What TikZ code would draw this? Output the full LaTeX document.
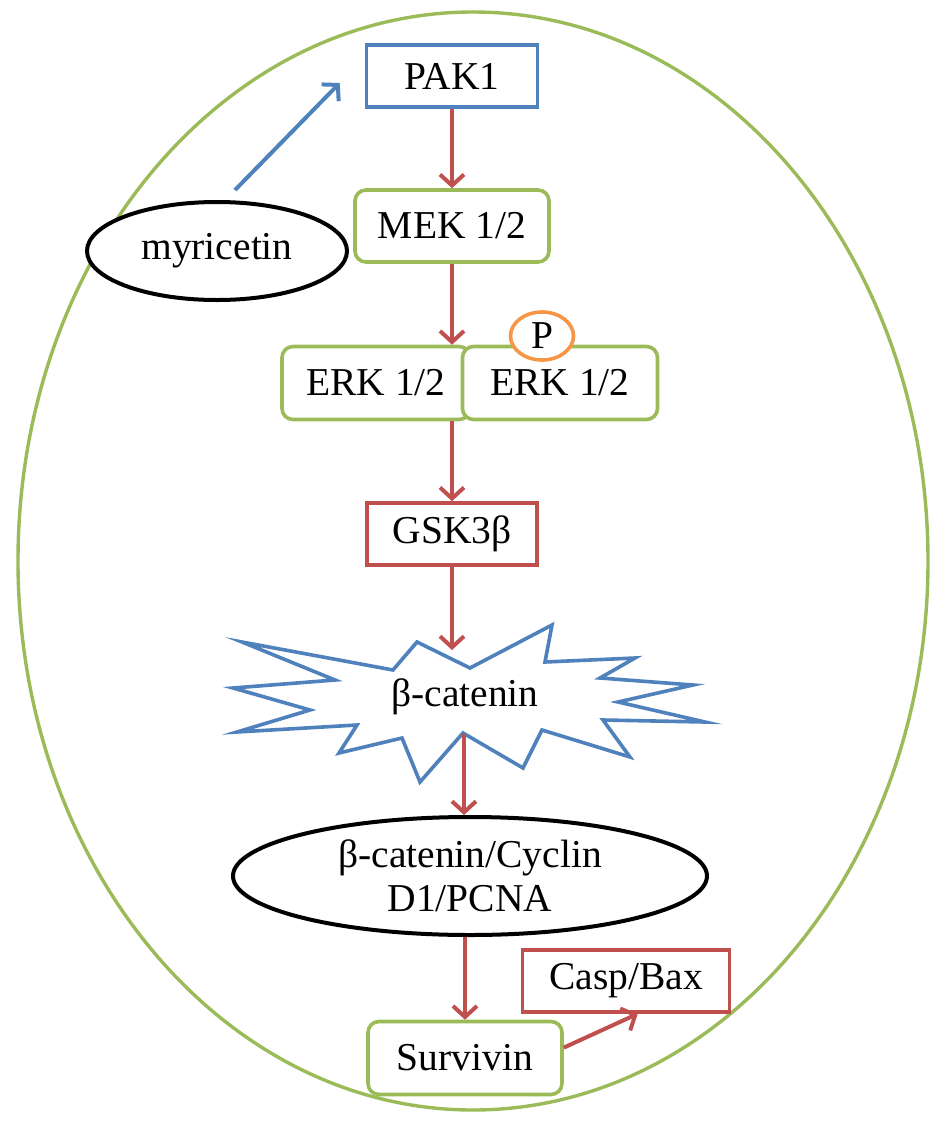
\documentclass[tikz,border=0pt]{standalone}
\usepackage{fontspec}
\setmainfont{Liberation Serif}
\usetikzlibrary{arrows.meta,shapes.geometric,calc}
\definecolor{cgreen}{HTML}{9BBB59}
\definecolor{cblue}{HTML}{4F81BD}
\definecolor{cred}{HTML}{C0504D}
\definecolor{corange}{HTML}{F79646}
\tikzset{
  sqbox/.style={draw, line width=3.6pt, fill=white, inner sep=0pt},
  rbox/.style={draw=cgreen, line width=3.6pt, fill=white, inner sep=0pt, rounded corners=11pt},
  oval/.style={draw, ellipse, line width=4pt, fill=white, inner sep=0pt},
  redarrow/.style={draw=cred, line width=4pt, -{Straight Barb[length=11pt,width=24pt]}},
  bluearrow/.style={draw=cblue, line width=4pt, -{Straight Barb[length=11pt,width=24pt]}}
}
\begin{document}
\begin{tikzpicture}[x=1pt,y=-1pt,font=\fontsize{39.5}{44}\selectfont]
\useasboundingbox (0,0) rectangle (945,1128);
% cell
\node[draw=cgreen, line width=3.4pt, ellipse, minimum width=910pt, minimum height=1098pt, inner sep=0pt] (cell) at (473,561) {};
% nodes
\node[sqbox, draw=cblue, minimum width=171pt, minimum height=62pt] (pak) at (452,76) {PAK1};
\node[rbox, minimum width=194pt, minimum height=72pt] (mek) at (452,226) {MEK 1/2};
\node[oval, draw=black, minimum width=260pt, minimum height=98pt] (myr) at (217,251) {myricetin};
\node[rbox, minimum width=188pt, minimum height=73pt] (erkL) at (376,383) {ERK 1/2};
\node[rbox, minimum width=195pt, minimum height=73pt] (erkR) at (560,383) {ERK 1/2};
\node[draw=corange, ellipse, line width=3.6pt, fill=white, inner sep=0pt, minimum width=63pt, minimum height=48pt] (p) at (542,336) {P};
\node[sqbox, draw=cred, minimum width=170pt, minimum height=62pt] (gsk) at (452,534) {GSK3β};
% beta-catenin star
\draw[cblue, line width=3.6pt, line join=miter, fill=white]
  (242,642) -- (393,670) -- (417,642) -- (470,668) -- (552,625) -- (545,662)
  -- (635,658) -- (600,678) -- (693,685) -- (618,702) -- (705,722) -- (603,720)
  -- (630,757) -- (542,730) -- (523,768) -- (463,733) -- (420,782) -- (402,738)
  -- (339,753) -- (357,725) -- (237,732) -- (310,710) -- (233,688) -- (335,680) -- cycle;
\node (bcat) at (465,697) {β-catenin};
\coordinate (bctop) at (452,650);
\coordinate (bcbot) at (464,734);
\node[oval, draw=black, minimum width=474pt, minimum height=118pt, align=center] (cyc) at (470,876) {β-catenin/Cyclin\\D1/PCNA};
\node[rbox, minimum width=194pt, minimum height=73pt] (surv) at (465,1058) {Survivin};
\node[sqbox, draw=cred, minimum width=207pt, minimum height=62pt] (casp) at (626,981) {Casp/Bax};
% connectors
\draw[bluearrow] ($(myr.north)+(18,-10)$) -- ($(pak.west)+(-25,7)$);
\draw[redarrow] (pak.south) -- (mek.north);
\draw[redarrow] (mek.south) -- (mek.south |- erkL.north);
\draw[redarrow] (gsk.north |- erkL.south) -- (gsk.north);
\draw[redarrow] (gsk.south) -- (bctop);
\draw[redarrow] (bcbot) -- (bcbot |- cyc.north);
\draw[redarrow] (surv.north |- cyc.south) -- (surv.north);
\draw[redarrow] (surv.6) -- ($(casp.south west)+(117,0)$);
\end{tikzpicture}
\end{document}
